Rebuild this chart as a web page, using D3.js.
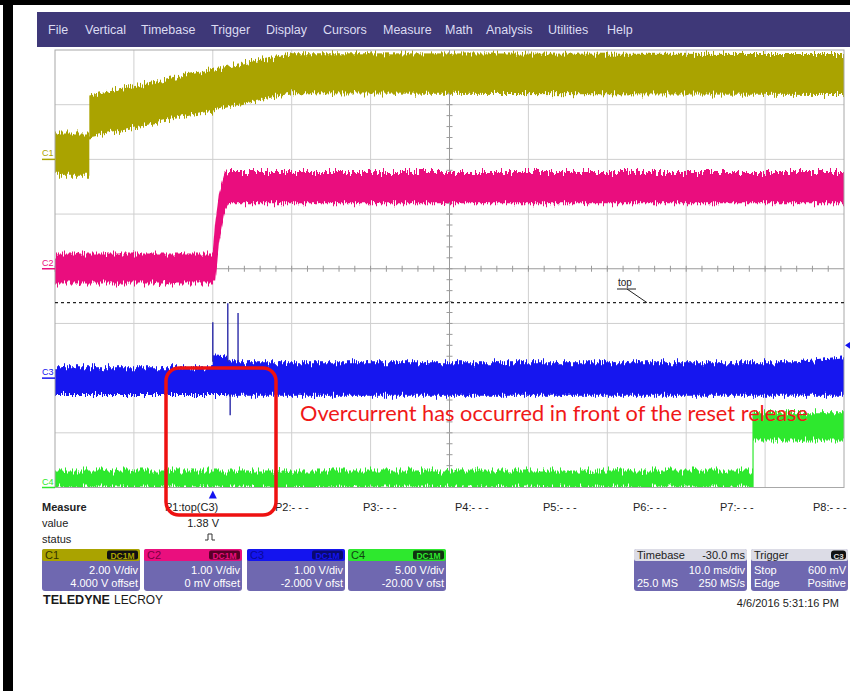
<!DOCTYPE html>
<html>
<head>
<meta charset="utf-8">
<script src="https://cdn.jsdelivr.net/npm/d3@7"></script>
<style>
  body { margin: 0; background: #fff; }
  svg { display: block; font-family: "Liberation Sans", Arial, sans-serif; }
</style>
</head>
<body>
<div id="scope"></div>
<script>
// ---- data ----
var menuItems = ["File", "Vertical", "Timebase", "Trigger", "Display", "Cursors", "Measure", "Math", "Analysis", "Utilities", "Help"];
var menuX = [48, 85, 141, 211, 266, 323, 383, 445, 486, 548, 607];

var channels = ["C1", "C2", "C3", "C4"];
var voltsPerDiv = [2, 1, 1, 5];
var offsets = [4, 0, -2, -20];
var channelColors = ["#aaa300", "#ea0f7e", "#1414ef", "#2ee82e"];
var vdivLabels = ["2.00 V/div", "1.00 V/div", "1.00 V/div", "5.00 V/div"];
var offsetLabels = ["4.000 V offset", "0 mV offset", "-2.000 V ofst", "-20.00 V ofst"];

// time in ms (10 ms/div, delay -30 ms -> -20..80 ms)
var timeDomain = [-20, 80];

// envelopes of each trace (time ms, low V, high V)
var c1Time = [-20, -15.65, -15.65, 10, 80];
var c1Lo = [-0.6, -0.6, 0.8, 2.42, 2.35];
var c1Hi = [0.95, 0.95, 2.34, 3.88, 3.85];

var c2Time = [-20, 0, 0.3, 0.8, 1.5, 2.0, 80];
var c2Lo = [-0.27, -0.27, -0.27, 0.5, 1.05, 1.2, 1.2];
var c2Hi = [0.28, 0.28, 0.85, 1.4, 1.75, 1.77, 1.77];

var c3Time = [-20, 0, 0, 1.5, 2.5, 74, 80];
var c3Lo = [-0.31, -0.31, -0.31, -0.31, -0.32, -0.32, -0.32];
var c3Hi = [0.2, 0.2, 0.42, 0.4, 0.29, 0.29, 0.38];
var c3SpikeTime = [0, 1.9, 3.2, 2.2];
var c3SpikeVolt = [1.02, 1.37, 1.19, -0.68];

var c4Time = [-20, 68.47, 68.47, 80];
var c4Lo = [0, 0, 4.3, 4.3];
var c4Hi = [1.56, 1.56, 6.87, 6.87];

var measureLabels = ["P1:top(C3)", "P2:- - -", "P3:- - -", "P4:- - -", "P5:- - -", "P6:- - -", "P7:- - -", "P8:- - -"];
var measureX = [165, 275, 363, 455, 543, 633, 720, 813];
var p1Value = 1.38;
var triggerLevel = 0.6;

var note = "Overcurrent has occurred in front of the reset release";

// ---- layout ----
var W = 850, H = 691;
var grid = {left: 55, right: 844, top: 50, bottom: 487.5};

var svg = d3.select("#scope").append("svg")
    .attr("width", W)
    .attr("height", H);

svg.append("rect").attr("width", W).attr("height", H).attr("fill", "#fff");

// black frame of the screenshot
svg.append("rect").attr("x", 0).attr("y", 0).attr("width", W).attr("height", 5).attr("fill", "#000");
svg.append("rect").attr("x", 3).attr("y", 0).attr("width", 10).attr("height", H).attr("fill", "#000");

// menu bar
svg.append("rect").attr("x", 37).attr("y", 12).attr("width", W - 37).attr("height", 35).attr("fill", "#3e3878");
svg.selectAll(".menu").data(menuItems).enter().append("text")
    .attr("class", "menu")
    .attr("x", function(d, i){ return menuX[i]; })
    .attr("y", 34)
    .attr("font-size", 12.5)
    .attr("fill", "#dcdcf2")
    .text(function(d){ return d; });

// scales
var x = d3.scaleLinear().domain(timeDomain).range([grid.left, grid.right]);
var yScales = channels.map(function(c, i){
    return d3.scaleLinear()
        .domain([-4 * voltsPerDiv[i] - offsets[i], 4 * voltsPerDiv[i] - offsets[i]])
        .range([grid.bottom, grid.top]);
});
var divScale = d3.scaleLinear().domain([-4, 4]).range([grid.bottom, grid.top]);
var xDiv = d3.scaleLinear().domain([0, 10]).range([grid.left, grid.right]);

// grid
var gridG = svg.append("g");
gridG.selectAll(".vline").data(d3.range(1, 10)).enter().append("line")
    .attr("x1", function(d){ return xDiv(d); }).attr("x2", function(d){ return xDiv(d); })
    .attr("y1", grid.top).attr("y2", grid.bottom)
    .attr("stroke", function(d){ return d == 5 ? "#9a9a9a" : "#cfcfcf"; })
    .attr("stroke-width", 1);
gridG.selectAll(".hline").data(d3.range(-3, 4)).enter().append("line")
    .attr("y1", function(d){ return divScale(d); }).attr("y2", function(d){ return divScale(d); })
    .attr("x1", grid.left).attr("x2", grid.right)
    .attr("stroke", function(d){ return d == 0 ? "#9a9a9a" : "#cfcfcf"; })
    .attr("stroke-width", 1);
// minor ticks on the centre lines
gridG.selectAll(".xtick").data(d3.range(0, 50)).enter().append("line")
    .attr("x1", function(d){ return xDiv(d / 5); }).attr("x2", function(d){ return xDiv(d / 5); })
    .attr("y1", divScale(0) - 3).attr("y2", divScale(0) + 3)
    .attr("stroke", "#9a9a9a");
gridG.selectAll(".ytick").data(d3.range(-20, 20)).enter().append("line")
    .attr("y1", function(d){ return divScale(d / 5); }).attr("y2", function(d){ return divScale(d / 5); })
    .attr("x1", xDiv(5) - 3).attr("x2", xDiv(5) + 3)
    .attr("stroke", "#9a9a9a");

// clip + roughness filter for the noisy traces
var defs = svg.append("defs");
defs.append("clipPath").attr("id", "gridClip").append("rect")
    .attr("x", grid.left).attr("y", grid.top)
    .attr("width", grid.right - grid.left).attr("height", grid.bottom - grid.top);
var f = defs.append("filter").attr("id", "noise")
    .attr("x", "-2%").attr("y", "-30%").attr("width", "104%").attr("height", "160%");
f.append("feTurbulence").attr("type", "fractalNoise").attr("baseFrequency", "0.9 0.02")
    .attr("numOctaves", 2).attr("seed", 3).attr("result", "turb");
f.append("feColorMatrix").attr("in", "turb").attr("type", "matrix")
    .attr("values", "0 0 0 0 0.5  0 1.6 0 0 -0.3  0 0 1 0 0  0 0 0 0 1")
    .attr("result", "turb2");
f.append("feDisplacementMap").attr("in", "SourceGraphic").attr("in2", "turb2")
    .attr("scale", 9).attr("xChannelSelector", "R").attr("yChannelSelector", "G");

var traces = svg.append("g").attr("clip-path", "url(#gridClip)");
var noisy = traces.append("g").attr("filter", "url(#noise)");

var envelopes = [
    {t: c1Time, lo: c1Lo, hi: c1Hi},
    {t: c2Time, lo: c2Lo, hi: c2Hi},
    {t: c3Time, lo: c3Lo, hi: c3Hi},
    {t: c4Time, lo: c4Lo, hi: c4Hi}
];

envelopes.forEach(function(env, ci){
    var pts = env.t.map(function(t, i){ return {t: t, lo: env.lo[i], hi: env.hi[i]}; });
    var area = d3.area()
        .x(function(d){ return x(d.t); })
        .y0(function(d){ return yScales[ci](d.lo); })
        .y1(function(d){ return yScales[ci](d.hi); });
    noisy.append("path")
        .datum(pts)
        .attr("d", area)
        .attr("fill", channelColors[ci]);
});

// C3 glitches
c3SpikeTime.forEach(function(t, i){
    var base = c3SpikeVolt[i] > 0 ? 0.3 : -0.3;
    traces.append("line")
        .attr("x1", x(t)).attr("x2", x(t))
        .attr("y1", yScales[2](base)).attr("y2", yScales[2](c3SpikeVolt[i]))
        .attr("stroke", "#2a2aa8").attr("stroke-width", 1.4);
});

// C4 rising edge
traces.append("path")
    .datum([[c4Time[1], c4Lo[1]], [c4Time[2], c4Hi[2]]])
    .attr("d", d3.line().x(function(d){ return x(d[0]); }).y(function(d){ return yScales[3](d[1]); }))
    .attr("stroke", channelColors[3]).attr("stroke-width", 1.2);

// grid border
svg.append("rect")
    .attr("x", grid.left).attr("y", grid.top)
    .attr("width", grid.right - grid.left).attr("height", grid.bottom - grid.top)
    .attr("fill", "none").attr("stroke", "#a8a8a8");

// P1 top level (dashed)
var yTop = yScales[2](p1Value);
svg.append("line")
    .attr("x1", grid.left).attr("x2", grid.right)
    .attr("y1", yTop).attr("y2", yTop)
    .attr("stroke", "#222").attr("stroke-width", 1.3).attr("stroke-dasharray", "3,3");
svg.append("text").attr("x", 618).attr("y", 286).attr("font-size", 10).attr("fill", "#222").text("top");
svg.append("line").attr("x1", 617).attr("x2", 636).attr("y1", 289).attr("y2", 289).attr("stroke", "#222");
svg.append("line").attr("x1", 627).attr("x2", 647).attr("y1", 289).attr("y2", yTop).attr("stroke", "#222");

// channel ground markers
channels.forEach(function(c, i){
    var g0 = yScales[i](0);
    svg.append("text")
        .attr("x", 42).attr("y", g0 - 3)
        .attr("font-size", 9)
        .attr("fill", channelColors[i])
        .text(c);
    svg.append("line")
        .attr("x1", 42).attr("x2", grid.left)
        .attr("y1", g0).attr("y2", g0)
        .attr("stroke", channelColors[i]).attr("stroke-width", 1.5);
});

// trigger markers
var yTrig = yScales[2](triggerLevel);
svg.append("path")
    .attr("d", "M" + (grid.right + 1) + "," + yTrig + "l6,-4v8z")
    .attr("fill", channelColors[2]);
svg.append("path")
    .attr("d", "M" + x(0) + "," + (grid.bottom + 3) + "l-4,8h8z")
    .attr("fill", channelColors[2]);

// measure table
var small = 11;
svg.append("text").attr("x", 42).attr("y", 511).attr("font-size", small).attr("font-weight", "bold").attr("fill", "#222").text("Measure");
svg.append("text").attr("x", 42).attr("y", 527).attr("font-size", small).attr("fill", "#222").text("value");
svg.append("text").attr("x", 42).attr("y", 543).attr("font-size", small).attr("fill", "#222").text("status");
svg.selectAll(".meas").data(measureLabels).enter().append("text")
    .attr("x", function(d, i){ return measureX[i]; })
    .attr("y", 511)
    .attr("font-size", small)
    .attr("fill", "#222")
    .text(function(d){ return d; });
svg.append("text").attr("x", 219).attr("y", 527).attr("font-size", small).attr("text-anchor", "end").attr("fill", "#222")
    .text(p1Value.toFixed(2) + " V");
svg.append("path").attr("d", "M205,540h3v-6h4v6h3").attr("fill", "none").attr("stroke", "#333").attr("stroke-width", 1);

// channel descriptor boxes
var boxX = [42, 144, 247, 348];
var boxW = 98;
var headTextColors = ["#333300", "#7a0040", "#0a0a9a", "#114411"];
var badgeFill = ["#111", "#5a0028", "#0a0a70", "#113311"];
channels.forEach(function(c, i){
    var g = svg.append("g").attr("transform", "translate(" + boxX[i] + ",549)");
    g.append("rect").attr("width", boxW).attr("height", 42).attr("rx", 3).attr("fill", "#6f68b0");
    g.append("rect").attr("width", boxW).attr("height", 12).attr("rx", 2).attr("fill", channelColors[i]);
    g.append("text").attr("x", 3).attr("y", 10).attr("font-size", small).attr("fill", headTextColors[i]).text(c);
    g.append("rect").attr("x", boxW - 33).attr("y", 1.5).attr("width", 31).attr("height", 9).attr("rx", 2).attr("fill", badgeFill[i]);
    g.append("text").attr("x", boxW - 17.5).attr("y", 9.5).attr("font-size", 8.5).attr("font-weight", "bold")
        .attr("text-anchor", "middle").attr("fill", channelColors[i]).text("DC1M");
    g.append("text").attr("x", boxW - 2).attr("y", 25).attr("font-size", small).attr("text-anchor", "end").attr("fill", "#fff").text(vdivLabels[i]);
    g.append("text").attr("x", boxW - 2).attr("y", 38).attr("font-size", small).attr("text-anchor", "end").attr("fill", "#fff").text(offsetLabels[i]);
});

// timebase + trigger boxes
function infoBox(x0, w, head, headRight, rows, badge){
    var g = svg.append("g").attr("transform", "translate(" + x0 + ",549)");
    g.append("rect").attr("width", w).attr("height", 42).attr("rx", 3).attr("fill", "#6f68b0");
    g.append("rect").attr("width", w).attr("height", 12).attr("rx", 2).attr("fill", "#dcdce6");
    g.append("text").attr("x", 3).attr("y", 10).attr("font-size", small).attr("fill", "#222").text(head);
    if (badge){
        g.append("rect").attr("x", w - 17).attr("y", 1.5).attr("width", 15).attr("height", 9).attr("rx", 3).attr("fill", "#111");
        g.append("text").attr("x", w - 9.5).attr("y", 9.5).attr("font-size", 8).attr("font-weight", "bold")
            .attr("text-anchor", "middle").attr("fill", "#ddd").text(badge);
    } else {
        g.append("text").attr("x", w - 2).attr("y", 10).attr("font-size", small).attr("text-anchor", "end").attr("fill", "#222").text(headRight);
    }
    rows.forEach(function(r, k){
        g.append("text").attr("x", 3).attr("y", 25 + 13 * k).attr("font-size", small).attr("fill", "#fff").text(r[0]);
        g.append("text").attr("x", w - 2).attr("y", 25 + 13 * k).attr("font-size", small).attr("text-anchor", "end").attr("fill", "#fff").text(r[1]);
    });
}
infoBox(634, 113, "Timebase", "-30.0 ms", [["", "10.0 ms/div"], ["25.0 MS", "250 MS/s"]]);
infoBox(751, 97, "Trigger", "", [["Stop", "600 mV"], ["Edge", "Positive"]], "C3");

// brand + date
svg.append("text").attr("x", 43).attr("y", 604).attr("font-size", 13.5).attr("font-weight", "bold").attr("fill", "#1a1a1a")
    .attr("textLength", 67).attr("lengthAdjust", "spacingAndGlyphs").text("TELEDYNE");
svg.append("text").attr("x", 114).attr("y", 604).attr("font-size", 13.5).attr("fill", "#1a1a1a")
    .attr("textLength", 49).attr("lengthAdjust", "spacingAndGlyphs").text("LECROY");
svg.append("text").attr("x", 839).attr("y", 607).attr("font-size", small).attr("text-anchor", "end").attr("fill", "#222")
    .text("4/6/2016 5:31:16 PM");

// red annotation
svg.append("rect")
    .attr("x", 166).attr("y", 368).attr("width", 110).attr("height", 147)
    .attr("rx", 13)
    .attr("fill", "none").attr("stroke", "#ee1111").attr("stroke-width", 3.5);
svg.append("text")
    .attr("x", 300).attr("y", 421)
    .attr("font-family", "Lato, 'Open Sans', sans-serif")
    .attr("font-size", 21)
    .attr("fill", "#f01818")
    .attr("textLength", 508).attr("lengthAdjust", "spacingAndGlyphs")
    .text(note);
</script>
</body>
</html>
